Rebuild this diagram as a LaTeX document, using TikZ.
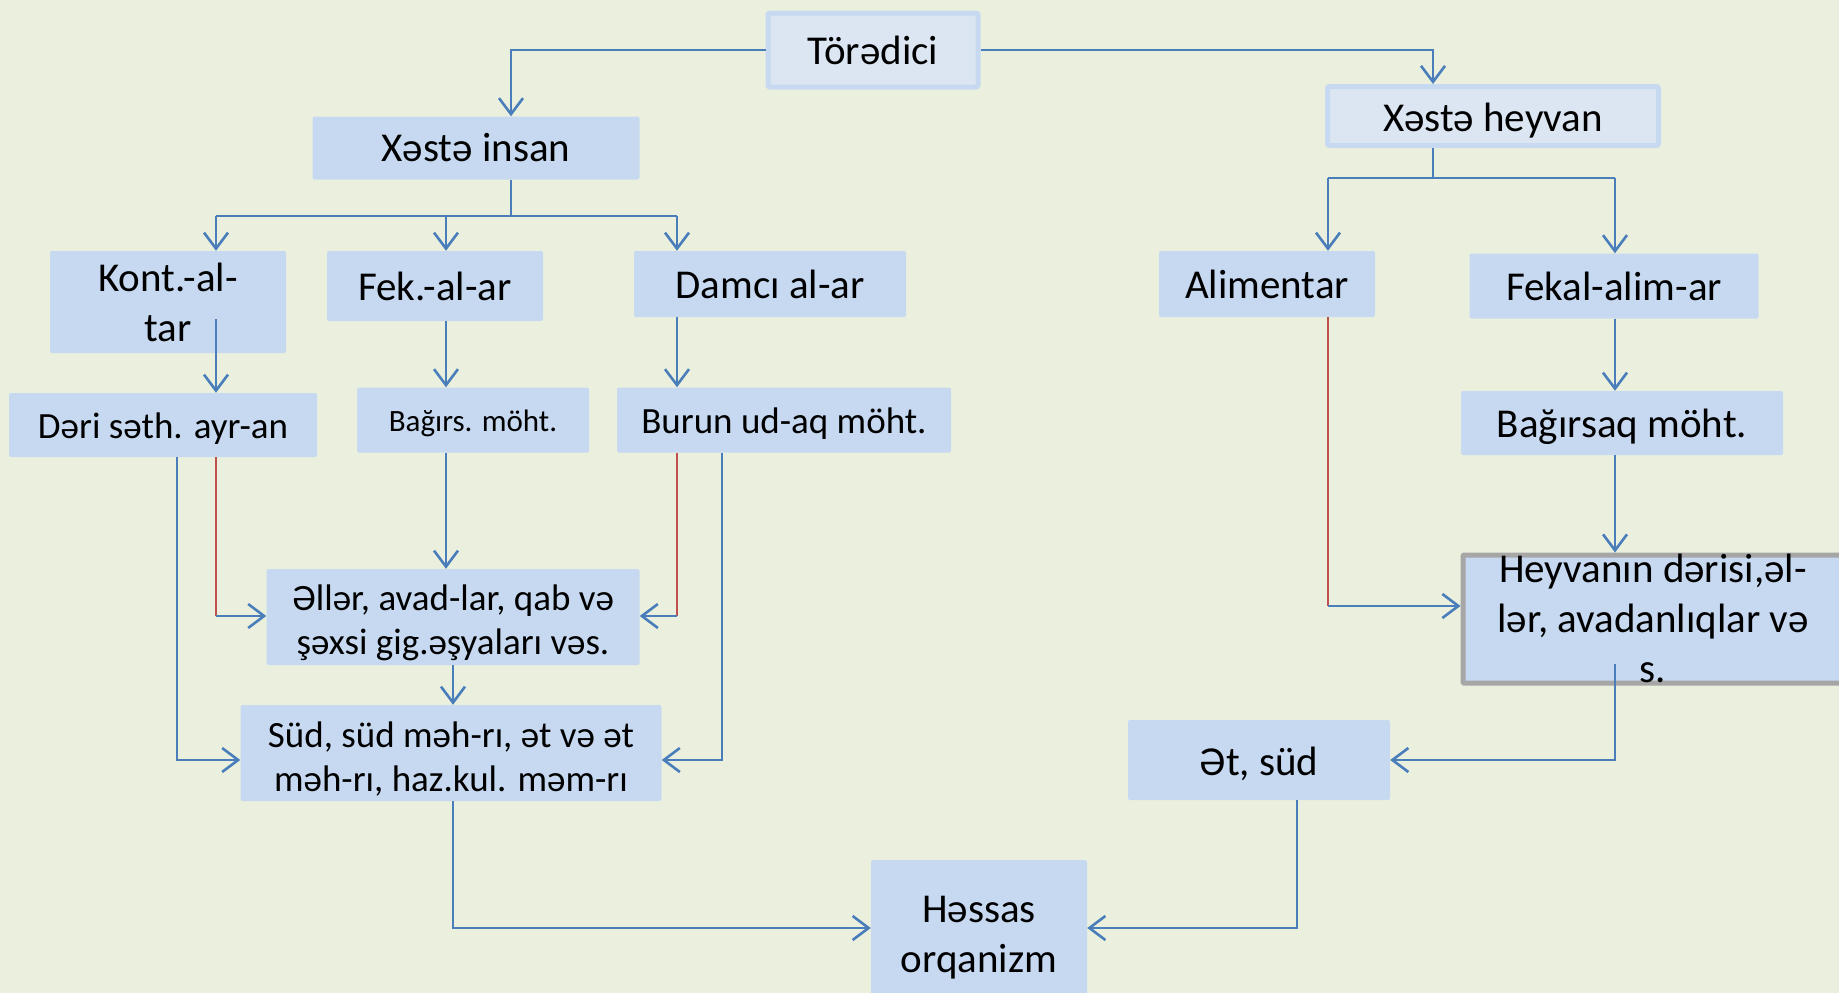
\documentclass[tikz,border=0pt]{standalone}
\usepackage{fontspec}
\setmainfont{Carlito}
\usetikzlibrary{arrows.meta}

\definecolor{bgcol}{HTML}{EBF0DE}
\definecolor{boxcol}{HTML}{C6D9F1}
\definecolor{topcol}{HTML}{DCE6F2}
\definecolor{linecol}{HTML}{4A7EBB}
\definecolor{redcol}{HTML}{C0504D}

\newcommand{\bigtext}{\fontsize{41}{50}\selectfont}
\newcommand{\midtext}{\fontsize{37}{44}\selectfont}
\newcommand{\smalltext}{\fontsize{31}{38}\selectfont}
\newcommand{\topstrut}{\rule{0pt}{1.0em}}

\tikzset{
  box/.style      = {shape=rectangle, rounded corners=2pt, fill=boxcol,
                     align=center, inner sep=0pt, font=\bigtext},
  topbox/.style   = {box, fill=topcol, draw=boxcol, line width=5pt},
  greybox/.style  = {box, draw=black!35, line width=5pt, rounded corners=1pt},
  lower/.style    = {execute at begin node={\rule{0pt}{0.9em}}},
  link/.style     = {draw=linecol, line width=2.6pt},
  arr/.style      = {link, -{Straight Barb[length=16pt,width=24pt,line width=2.6pt]}},
  redlink/.style  = {draw=redcol, line width=1.6pt}
}

\begin{document}
\begin{tikzpicture}[x=1pt, y=-1pt]
\fill[bgcol] (0,0) rectangle (1839,993);
\useasboundingbox (0,0) rectangle (1839,993);
\clip (0,0) rectangle (1839,993);

% boxes
\node[topbox, minimum width=210pt, minimum height=74pt] (tor) at (873,50) {Törədici};
\node[box, minimum width=327pt, minimum height=63pt] (insan) at (476,148) {Xəstə insan};
\node[topbox, lower, minimum width=331pt, minimum height=59pt] (hey) at (1493,116) {Xəstə heyvan};

\node[box, minimum width=236pt, minimum height=102pt] (kont) at (168,302) {Kont.-al-\\tar};
\node[box, minimum width=216pt, minimum height=70pt] (fek) at (435,286) {Fek.-al-ar};
\node[box, minimum width=272pt, minimum height=66pt] (damci) at (770,284) {Damcı al-ar};
\node[box, minimum width=216pt, minimum height=66pt] (alim) at (1267,284) {Alimentar};
\node[box, minimum width=289pt, minimum height=65pt] (fekal) at (1614,286) {Fekal-alim-ar};

\node[box, lower, font=\midtext, minimum width=308pt, minimum height=64pt] (deri) at (163,425) {Dəri səth. ayr-an};
\node[box, lower, font=\smalltext, minimum width=232pt, minimum height=65pt] (bag) at (473,420) {Bağırs. möht.};
\node[box, lower, font=\midtext, minimum width=334pt, minimum height=65pt] (burun) at (784,420) {Burun ud-aq möht.};
\node[box, lower, minimum width=322pt, minimum height=64pt] (bagh) at (1622,423) {Bağırsaq möht.};

\node[box, font=\midtext, minimum width=373pt, minimum height=96pt] (ell) at (453,617) {\topstrut Əllər, avad-lar, qab və\\şəxsi gig.əşyaları vəs.};
\node[box, font=\midtext, minimum width=421pt, minimum height=96pt] (sud) at (451,753) {\topstrut Süd, süd məh-rı, ət və ət\\məh-rı, haz.kul. məm-rı};
\node[greybox, minimum width=377pt, minimum height=128pt] (heyv) at (1653,619)
  {\raisebox{-11pt}{\smash{\parbox[c]{380pt}{\centering Heyvanın dərisi,əl-\\lər, avadanlıqlar və\\s.}}}};
\node[box, lower, minimum width=262pt, minimum height=80pt] (et) at (1259,760) {Ət, süd};
\node[box, minimum width=216pt, minimum height=140pt] (has) at (979,930) {\topstrut Həssas\\orqanizm};

% junction points
\coordinate (tL) at (511,50);
\coordinate (tR) at (1433,50);
\coordinate (jL) at (511,216);
\coordinate (b1) at (216,216);
\coordinate (b2) at (446,216);
\coordinate (b3) at (677,216);
\coordinate (jR) at (1433,178);
\coordinate (c1) at (1328,178);
\coordinate (c2) at (1615,178);
\coordinate (k1) at (216,319);
\coordinate (r1) at (216,616);
\coordinate (r2) at (677,616);
\coordinate (r3) at (1328,606);
\coordinate (s1) at (177,760);
\coordinate (s2) at (722,760);
\coordinate (h1) at (453,928);
\coordinate (h2) at (1297,928);
\coordinate (e1) at (1615,664);
\coordinate (e2) at (1615,760);

% top level
\draw[arr] (tor.west) -- (tL) -- (insan.north -| tL);
\draw[arr] (tor.east) -- (tR) -- (hey.north -| tR);

% left tree
\draw[link] (insan.south -| jL) -- (jL);
\draw[link] (b1) -- (b3);
\draw[arr] (b1) -- (kont.north -| b1);
\draw[arr] (b2) -- (fek.north -| b2);
\draw[arr] (b3) -- (damci.north -| b3);
\draw[arr] (k1) -- (deri.north -| k1);
\draw[arr] (fek.south -| b2) -- (bag.north -| b2);
\draw[arr] (damci.south -| b3) -- (burun.north -| b3);
\draw[arr] (bag.south -| b2) -- (ell.north -| b2);
\draw[redlink] (deri.south -| r1) -- (r1);
\draw[arr] (r1) -- (r1 -| ell.west);
\draw[redlink] (burun.south -| r2) -- (r2);
\draw[arr] (r2) -- (r2 -| ell.east);
\draw[arr] (deri.south -| s1) -- (s1) -- (s1 -| sud.west);
\draw[arr] (burun.south -| s2) -- (s2) -- (s2 -| sud.east);
\draw[arr] (ell.south) -- (ell.south |- sud.north);
\draw[arr] (sud.south -| h1) -- (h1) -- (h1 -| has.west);

% right tree
\draw[link] (hey.south -| jR) -- (jR);
\draw[link] (c1) -- (c2);
\draw[arr] (c1) -- (alim.north -| c1);
\draw[arr] (c2) -- (fekal.north -| c2);
\draw[arr] (fekal.south -| c2) -- (bagh.north -| c2);
\draw[arr] (bagh.south -| c2) -- (heyv.north -| c2);
\draw[redlink] (alim.south -| r3) -- (r3);
\draw[arr] (r3) -- (r3 -| heyv.west);
\draw[arr] (e1) -- (e2) -- (e2 -| et.east);
\draw[arr] (et.south -| h2) -- (h2) -- (h2 -| has.east);
\end{tikzpicture}
\end{document}
